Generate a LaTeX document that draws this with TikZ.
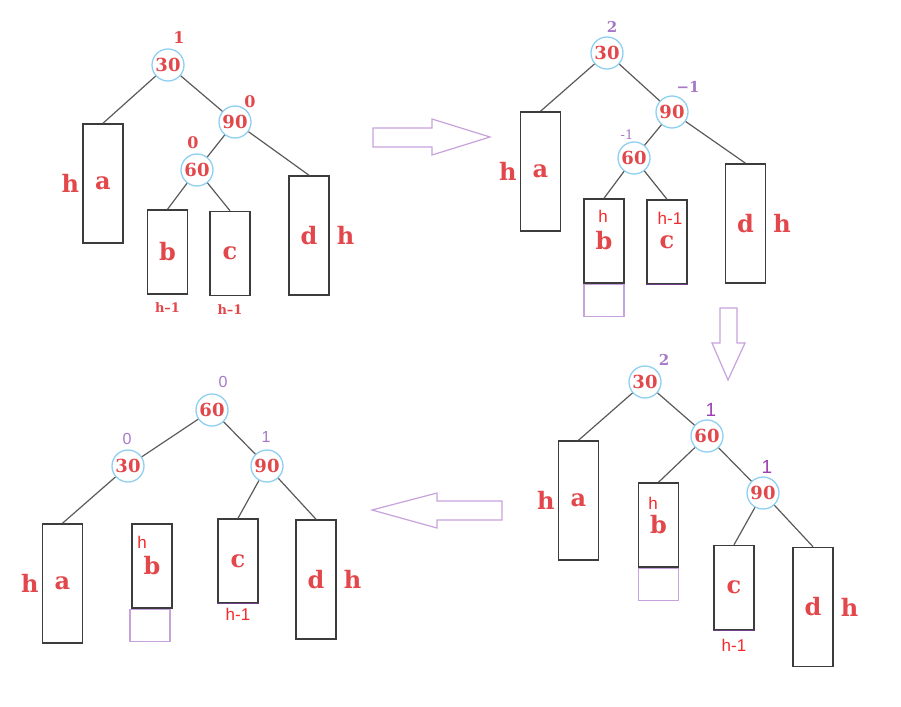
\documentclass[tikz,border=0pt]{standalone}
\usepackage{fontspec}
\setmainfont{DejaVu Serif}
\newfontfamily\labelsans{Liberation Sans}
\usetikzlibrary{positioning}

\definecolor{keyred}{HTML}{E2474B}
\definecolor{hred}{HTML}{F52A2A}
\definecolor{ringblue}{HTML}{8FD0F2}
\definecolor{boxgray}{HTML}{3C3C3C}
\definecolor{linkgray}{HTML}{5A5A5A}
\definecolor{bfpurple}{HTML}{A678C8}
\definecolor{bfviolet}{HTML}{9A3FB2}
\definecolor{arrowlilac}{HTML}{C7A2DC}
\definecolor{darklilac}{HTML}{6E3F86}

\begin{document}
\begin{tikzpicture}[
    x=1pt, y=-1pt,
    keynode/.style={circle, draw=ringblue, line width=1.3pt, minimum size=32pt, inner sep=0pt, text=keyred, font=\fontsize{18}{18}\selectfont\bfseries},
    subtree/.style={rectangle, draw=boxgray, line width=1.5pt, minimum width=40pt, minimum height=119pt, inner sep=0pt, text=keyred, font=\fontsize{24}{24}\selectfont\bfseries},
    lowtree/.style={subtree, minimum height=84pt},
    extra/.style={rectangle, draw=arrowlilac, line width=1.1pt, minimum width=40pt, minimum height=32pt, inner sep=0pt},
    height/.style={text=keyred, inner sep=0pt, font=\fontsize{24}{24}\selectfont\bfseries},
    smallh/.style={text=hred, inner sep=0pt, font=\labelsans\fontsize{17}{17}\selectfont},
    bf/.style={text=keyred, inner sep=0pt, font=\fontsize{16}{16}\selectfont\bfseries},
    pbf/.style={text=bfpurple, inner sep=0pt, font=\fontsize{15}{15}\selectfont\bfseries},
    vbf/.style={text=bfviolet, inner sep=0pt, font=\labelsans\fontsize{19}{19}\selectfont},
    link/.style={draw=linkgray, line width=1.2pt},
    bigarrow/.style={draw=arrowlilac, line width=1.2pt}
]
\useasboundingbox (0,0) rectangle (901,706);

% Top left: before insertion
\node (p1n30) [keynode] at (168,65) {30};
\node (p1n90) [keynode] at (235,122) {90};
\node (p1n60) [keynode] at (197,170) {60};
\node [bf] at (179,38) {1};
\node [bf] at (250,102) {0};
\node [bf] at (193,143) {0};

\node (p1a) [subtree] at (103,183.5) {a};
\node (p1b) [lowtree] at (167.5,252) {b};
\node (p1c) [lowtree] at (230,253.5) {c};
\node (p1d) [subtree] at (309,235.5) {d};

\node (p1ha) [height, left=3pt of p1a] {h};
\node (p1hd) [height, right=7pt of p1d] {h};
\node (p1hb) [bf, font=\fontsize{13}{13}\selectfont\bfseries, below=8pt of p1b] {h–1};
\node (p1hc) [bf, font=\fontsize{13}{13}\selectfont\bfseries, below=8pt of p1c] {h–1};

\draw [link] (p1n30) -- (p1a.north);
\draw [link] (p1n30) -- (p1n90);
\draw [link] (p1n90) -- (p1n60);
\draw [link] (p1n90) -- (p1d.north);
\draw [link] (p1n60) -- (p1b.north);
\draw [link] (p1n60) -- (p1c.north);

% Top right: after insertion under b
\node (p2n30) [keynode] at (607,53) {30};
\node (p2n90) [keynode] at (672,112) {90};
\node (p2n60) [keynode] at (634,158) {60};
\node [pbf] at (612,27) {2};
\node [pbf] at (688,87) {−1};
\node [pbf, font=\fontsize{13}{13}\selectfont] at (627,135) {-1};

\node (p2a) [subtree] at (540.5,171.5) {a};
\node (p2b) [lowtree] at (604,241) {b};
\node (p2c) [lowtree] at (667,242) {c};
\node (p2d) [subtree] at (745.5,223.5) {d};
\node (p2x) [extra, below=0pt of p2b] {};

\node (p2ha) [height, left=3pt of p2a] {h};
\node (p2hd) [height, right=7pt of p2d] {h};
\node (p2hb) [smallh] at (603,216) {h};
\node (p2hc) [smallh] at (670,218) {h-1};
\draw [darklilac, line width=1.4pt] (p2c.south west) -- (p2c.south east);

\draw [link] (p2n30) -- (p2a.north);
\draw [link] (p2n30) -- (p2n90);
\draw [link] (p2n90) -- (p2n60);
\draw [link] (p2n90) -- (p2d.north);
\draw [link] (p2n60) -- (p2b.north);
\draw [link] (p2n60) -- (p2c.north);

% Bottom right: right rotation at 90
\node (p3n30) [keynode] at (645,382) {30};
\node (p3n60) [keynode] at (707,436) {60};
\node (p3n90) [keynode] at (763,493) {90};
\node [pbf] at (664,360) {2};
\node [vbf] at (711,410) {1};
\node [vbf] at (767,467) {1};

\node (p3a) [subtree] at (578.5,500.5) {a};
\node (p3b) [lowtree] at (658.5,525) {b};
\node (p3c) [lowtree] at (734,587.5) {c};
\node (p3d) [subtree] at (813,607) {d};
\node (p3x) [extra, below=0pt of p3b] {};

\node (p3ha) [height, left=3pt of p3a] {h};
\node (p3hd) [height, right=7pt of p3d] {h};
\node (p3hb) [smallh] at (653,503) {h};
\node (p3hc) [smallh, below=9pt of p3c] {h-1};
\draw [darklilac, line width=1.4pt] (p3c.south west) -- (p3c.south east);

\draw [link] (p3n30) -- (p3a.north);
\draw [link] (p3n30) -- (p3n60);
\draw [link] (p3n60) -- (p3b.north);
\draw [link] (p3n60) -- (p3n90);
\draw [link] (p3n90) -- (p3c.north);
\draw [link] (p3n90) -- (p3d.north);

% Bottom left: left rotation at 30
\node (p4n60) [keynode] at (212,410) {60};
\node (p4n30) [keynode] at (128,466) {30};
\node (p4n90) [keynode] at (267,466) {90};
\node [vbf, text=bfpurple, font=\labelsans\fontsize{16}{16}\selectfont] at (223,382) {0};
\node [vbf, text=bfpurple, font=\labelsans\fontsize{16}{16}\selectfont] at (127,439) {0};
\node [vbf, text=bfpurple, font=\labelsans\fontsize{16}{16}\selectfont] at (266,437) {1};

\node (p4a) [subtree] at (62.5,583.5) {a};
\node (p4b) [lowtree] at (152,566) {b};
\node (p4c) [lowtree] at (238,561) {c};
\node (p4d) [subtree] at (316,579.5) {d};
\node (p4x) [extra, below=0pt of p4b, xshift=-2pt] {};

\node (p4ha) [height, left=3pt of p4a] {h};
\node (p4hd) [height, right=7pt of p4d] {h};
\node (p4hb) [smallh] at (142,542) {h};
\node (p4hc) [smallh, below=4pt of p4c] {h-1};
\draw [darklilac, line width=1.4pt] (p4c.south west) -- (p4c.south east);

\draw [link] (p4n60) -- (p4n30);
\draw [link] (p4n60) -- (p4n90);
\draw [link] (p4n30) -- (p4a.north);
\draw [link] (p4n90) -- (p4c.north);
\draw [link] (p4n90) -- (p4d.north);

% Hollow step arrows
\draw [bigarrow] (373,128) -- (432,128) -- (432,119) -- (490,137) -- (432,155) -- (432,147) -- (373,147) -- cycle;
\draw [bigarrow] (720,308) -- (737,308) -- (737,343) -- (745,343) -- (728,380) -- (712,343) -- (720,343) -- cycle;
\draw [bigarrow] (502,501) -- (437,501) -- (437,493) -- (372,510) -- (437,528) -- (437,520) -- (502,520) -- cycle;

\end{tikzpicture}
\end{document}
